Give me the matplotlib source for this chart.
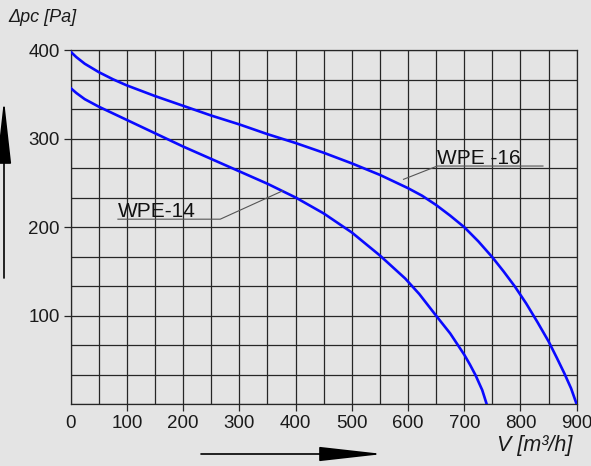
import matplotlib
matplotlib.use('Agg')
import matplotlib.pyplot as plt
import numpy as np

plt.rcParams['font.family'] = ['Liberation Sans', 'DejaVu Sans']

# fan curves: airflow V [m3/h], pressure dp [Pa]
v_wpe16 = [0, 10, 25, 50, 75, 100, 150, 200, 250, 300, 350, 400, 450, 500,
           550, 600, 625, 650, 675, 700, 725, 750, 770, 790, 810, 830, 850,
           865, 878, 890, 900]
p_wpe16 = [398, 392, 384.5, 375, 367, 360, 348, 337, 326, 316, 305, 295, 284, 272,
           259, 244, 235.5, 225, 213, 200, 184, 166, 150, 133, 114, 93, 71,
           52, 35, 18, 0]

v_wpe14 = [0, 10, 25, 50, 100, 150, 200, 250, 300, 350, 400, 450, 500,
           550, 595, 620, 650, 675, 700, 710, 720, 732, 740]
p_wpe14 = [357, 351.5, 344.5, 336, 321, 306, 291, 277, 263, 249, 233.5, 215.5, 194,
           168, 142, 124.5, 100, 80, 56, 45, 33, 16, 0]

x_ticks = [0, 100, 200, 300, 400, 500, 600, 700, 800, 900]
y_ticks = [100, 200, 300, 400]

bg = '#e4e4e4'
fig = plt.figure(figsize=(5.91, 4.66), dpi=100, facecolor=bg)
ax = fig.add_axes([0.1196, 0.1324, 0.8562, 0.7603], facecolor=bg)

ax.plot(v_wpe16, p_wpe16, color='#0a0aff', lw=1.9, solid_joinstyle='round', zorder=3)
ax.plot(v_wpe14, p_wpe14, color='#0a0aff', lw=1.9, solid_joinstyle='round', zorder=3)

ax.set_xlim(0, 900)
ax.set_ylim(0, 400)
ax.set_xticks(x_ticks)
ax.set_xticks(np.arange(0, 901, 50), minor=True)
ax.set_yticks(y_ticks)
ax.set_yticks(np.linspace(0, 400, 13), minor=True)
ax.grid(which='both', color='#262626', lw=0.9)
ax.set_axisbelow(True)
ax.tick_params(which='minor', length=0)
ax.tick_params(which='major', length=5, width=0.9, color='#262626',
               labelsize=13.5, labelcolor='#1a1a1a', pad=3)
ax.xaxis.get_major_ticks()[0].tick1line.set_visible(False)
for s in ax.spines.values():
    s.set_color('#262626')
    s.set_linewidth(0.9)

# curve labels with leader lines
ax.plot([592, 652, 840], [254, 269, 269], color='#555555', lw=0.8, zorder=4)
ax.text(652, 271, 'WPE -16', fontsize=15, color='#111111', zorder=5)
ax.plot([377, 266, 84], [241, 209, 209], color='#555555', lw=0.8, zorder=4)
ax.text(84, 212, 'WPE-14', fontsize=15, color='#111111', zorder=5)

# axis titles
fig.text(8 / 591, 1 - 22 / 466, 'Δpc [Pa]', fontsize=13, style='italic',
         color='#1a1a1a')
fig.text(572 / 591, 1 - 451 / 466, 'V [m³/h]', fontsize=15.5, style='italic',
         color='#1a1a1a', ha='right')

# direction arrows
arrow = dict(arrowstyle='-|>,head_length=4,head_width=0.45', mutation_scale=10,
             color='black', lw=1.2, shrinkA=0, shrinkB=0)
ax.annotate('', xy=(383, 12), xytext=(201, 12), xycoords='figure pixels',
            textcoords='figure pixels', arrowprops=arrow)
ax.annotate('', xy=(4, 366), xytext=(4, 188), xycoords='figure pixels',
            textcoords='figure pixels', arrowprops=arrow)

fig.savefig('out.png', dpi=100, facecolor=bg)
